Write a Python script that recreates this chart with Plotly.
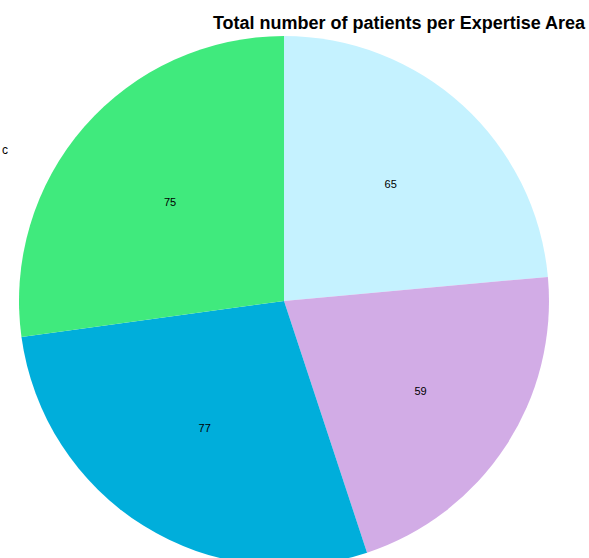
import plotly.graph_objects as go

categories = ["Area A", "Area B", "Area C", "Area D"]
patients = [65, 59, 77, 75]
colors = ["#C5F2FF", "#D2ACE6", "#00AEDB", "#40EA7D"]
title_text = "Total number of patients per Expertise Area"
side_label = "c"

W, H = 589, 570
fig = go.Figure(go.Pie(
    labels=categories,
    values=patients,
    sort=False,
    direction="clockwise",
    rotation=0,
    marker=dict(colors=colors, line=dict(width=0)),
    textinfo="value",
    textposition="inside",
    insidetextorientation="horizontal",
    textfont=dict(family="Liberation Sans, Arial, sans-serif", size=11, color="#000000"),
    domain=dict(x=[19 / W, 549 / W], y=[(H - 566) / H, (H - 36) / H]),
    showlegend=False,
    hoverinfo="label+value",
))

fig.update_layout(
    width=W, height=H,
    margin=dict(l=0, r=0, t=0, b=0),
    paper_bgcolor="white",
    title=dict(
        text="<b>" + title_text + "</b>",
        x=399 / W, xanchor="center",
        y=1 - 23 / H, yanchor="middle",
        font=dict(family="Liberation Sans, Arial, sans-serif", size=18, color="#000000"),
    ),
    annotations=[dict(
        text=side_label, x=0, y=1 - 150 / H, xref="paper", yref="paper",
        xanchor="left", yanchor="middle", showarrow=False,
        font=dict(family="Liberation Sans, Arial, sans-serif", size=12, color="#000000"),
    )],
)

fig.write_html(
    "out.html",
    config={"displayModeBar": False},
    post_script="document.body.style.margin='0';document.body.style.overflow='hidden';document.documentElement.style.overflow='hidden';",
)
